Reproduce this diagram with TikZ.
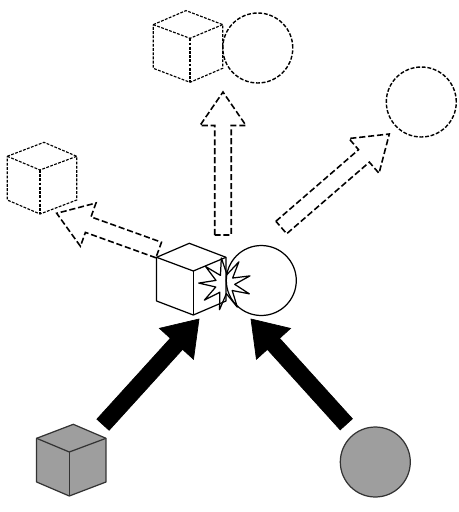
\documentclass[tikz,border=0pt]{standalone}
\usepackage{tikz}
\usetikzlibrary{calc}
\usetikzlibrary{shapes.geometric}

% cube seen from above: front corner #2, #3 = +1 or -1 turns it a little
\newcommand{\drawcube}[3]{%
  \begin{scope}[shift={(#2)}]
    \path[#1, draw=none] ({-34.7-2*(#3)},-13.7) -- ({-4*(#3)},-27.7) -- ({34.7-2*(#3)},-13.7)
      -- ({34.7-2*(#3)},30) -- (0,44) -- ({-34.7-2*(#3)},30) -- cycle;
    \draw[#1, fill=none] ({-34.7-2*(#3)},-13.7) -- ({-4*(#3)},-27.7) -- ({34.7-2*(#3)},-13.7)
      -- ({34.7-2*(#3)},30) -- (0,44) -- ({-34.7-2*(#3)},30) -- cycle;
    \draw[#1, fill=none] ({-34.7-2*(#3)},-13.7) -- (0,0) -- ({34.7-2*(#3)},-13.7);
    \draw[#1, fill=none] (0,0) -- (0,44);
  \end{scope}}

% wide arrow from #2 to #3
\newcommand{\blockarrow}[3]{%
  \coordinate (neck) at ($(#3)!0.67cm!(#2)$);
  \draw[#1] ($(#2)!0.165cm!90:(#3)$) -- ($(neck)!0.165cm!90:(#3)$)
    -- ($(neck)!0.46cm!90:(#3)$) -- (#3) -- ($(neck)!0.46cm!-90:(#3)$)
    -- ($(neck)!0.165cm!-90:(#3)$) -- ($(#2)!0.165cm!-90:(#3)$) -- cycle;}

\begin{document}
\begin{tikzpicture}[
    x=0.02cm, y=-0.02cm,
    solidline/.style={draw=black, line width=0.7pt, line join=round},
    greybody/.style={draw=black!80, line width=0.7pt, line join=round, fill=black!38},
    ghostcube/.style={draw=black, line width=0.65pt, dash pattern=on 1.6pt off 0.8pt},
    ghostball/.style={draw=black, line width=0.8pt, dash pattern=on 2.2pt off 1pt},
    ghostarrow/.style={draw=black, line width=0.9pt, line join=miter, dash pattern=on 3.5pt off 1.6pt},
    hitarrow/.style={fill=black},
    ball/.style={circle, minimum size=1.4cm, inner sep=0pt},
  ]
  \useasboundingbox (0,0) rectangle (459,512);

  % --- front corners of the cubes ---
  \coordinate (cubeStart) at (69.3,452);
  \coordinate (cubeHit) at (193.3,271);
  \coordinate (cubeUp) at (190,38.3);
  \coordinate (cubeLeft) at (40,170);

  % --- balls ---
  \node[ball, greybody] (ballStart) at (375.3,462) {};
  \node[ball, solidline] (ballHit) at (261.3,280.5) {};
  \node[ball, ghostball] (ballUp) at (257.8,48) {};
  \node[ball, ghostball] (ballRight) at (421.3,102) {};

  % --- cubes ---
  \drawcube{greybody}{cubeStart}{-1}
  \drawcube{solidline}{cubeHit}{1}
  \drawcube{ghostcube}{cubeUp}{1}
  \drawcube{ghostcube}{cubeLeft}{-1}

  % --- impact ---
  \node[star, star points=9, star point ratio=2.7, minimum size=1.05cm,
        solidline, rotate=8] (bang) at (225,284) {};

  % --- arrow ends ---
  \coordinate (inA) at (103,424.7);
  \coordinate (inAtip) at (199,319);
  \coordinate (inB) at (346.3,424.3);
  \coordinate (inBtip) at (251,319);
  \coordinate (outUp) at (223,235);
  \coordinate (outUptip) at (223,92);
  \coordinate (outR) at (281.3,227.5);
  \coordinate (outRtip) at (389.3,134);
  \coordinate (outL) at (158.7,250);
  \coordinate (outLtip) at (56.7,213.3);

  % --- before the hit ---
  \blockarrow{hitarrow}{inA}{inAtip}
  \blockarrow{hitarrow}{inB}{inBtip}

  % --- after the hit ---
  \blockarrow{ghostarrow}{outUp}{outUptip}
  \blockarrow{ghostarrow}{outR}{outRtip}
  \blockarrow{ghostarrow}{outL}{outLtip}
\end{tikzpicture}
\end{document}
